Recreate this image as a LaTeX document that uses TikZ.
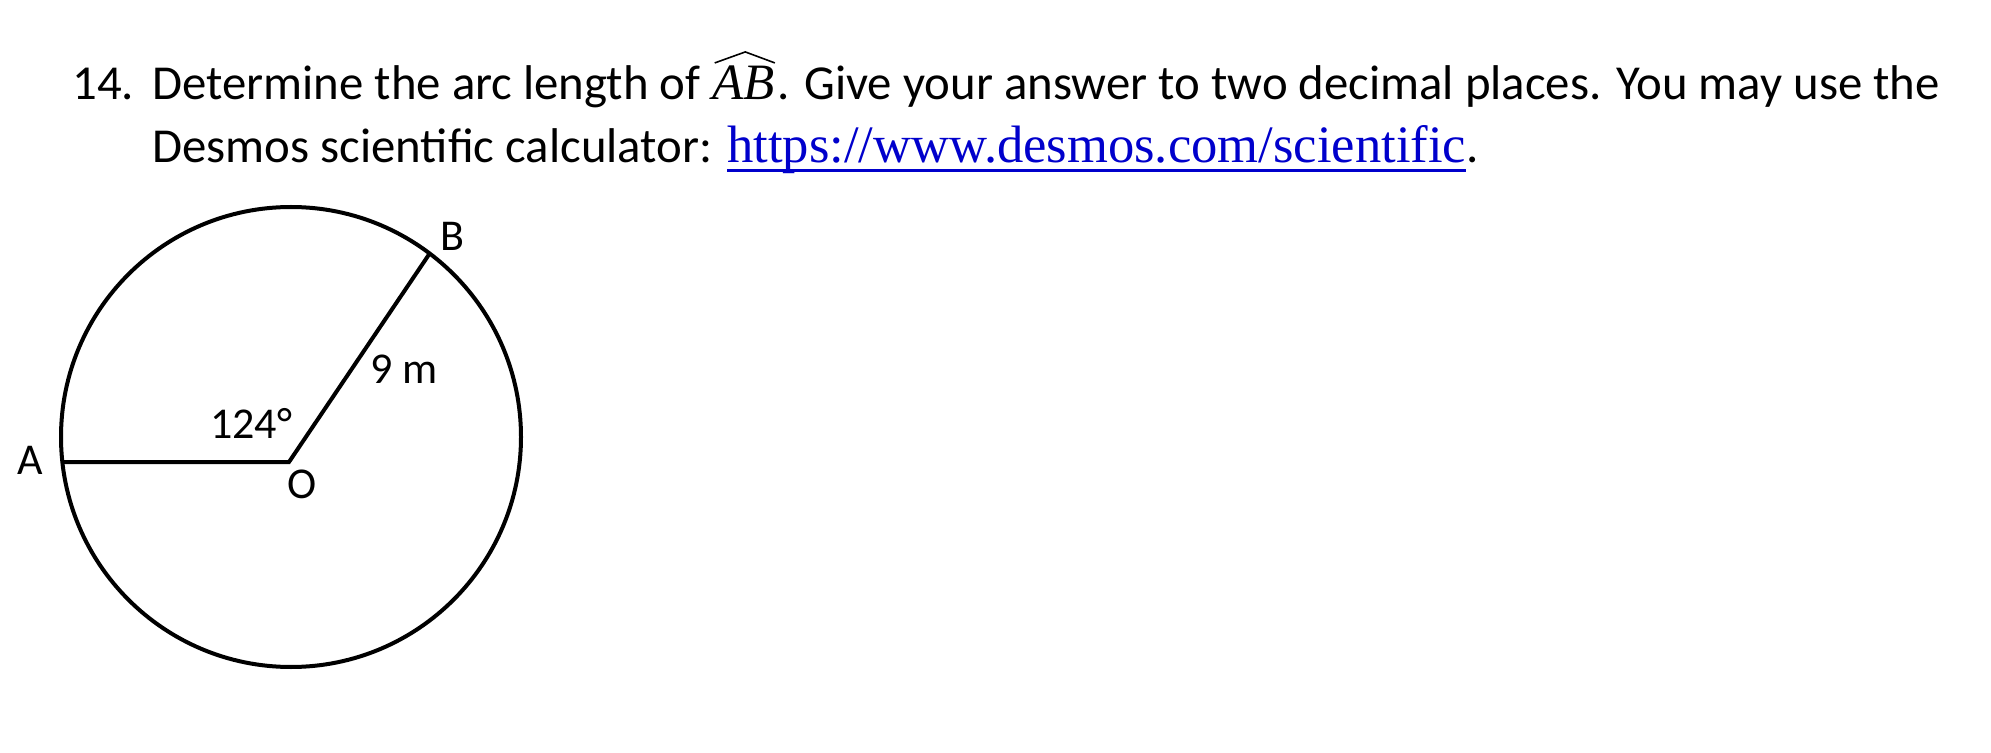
\documentclass[tikz,border=0pt]{standalone}
\usepackage{fontspec}
\setmainfont{Carlito}
\newfontfamily\timesfont{Liberation Serif}
\definecolor{linkblue}{RGB}{0,0,204}
\newcommand\linkul[1]{\setbox0\hbox{#1}\rlap{\rule[-4.4pt]{\wd0}{1.3pt}}\box0}
\tikzset{
  qtext/.style={font=\fontsize{24.4}{29}\selectfont, anchor=base west, inner sep=0pt},
  lbl/.style={font=\fontsize{22}{26}\selectfont, inner sep=0pt},
  geom/.style={line width=2pt, line join=miter},
  hat/.style={line width=0.8pt, line join=miter}
}
\begin{document}
\begin{tikzpicture}[x=0.5pt,y=-0.5pt]
\useasboundingbox[fill=white] (0,0) rectangle (1991,753);
\node[qtext] (num) at (72,100) {14.};
\node[qtext] (l1a) at (152,100) {Determine the arc length of};
\node[qtext, font=\fontsize{25.5}{29}\selectfont\timesfont\itshape] (ab) at ([xshift=5.5pt]l1a.base east) {AB};
\node[qtext] (l1b) at ([xshift=1pt]ab.base east) {. Give your answer to two decimal places. You may use the};
\draw[hat] ([xshift=1.5pt,yshift=1.5pt]ab.north west) -- ([xshift=1pt,yshift=7pt]ab.north) -- ([xshift=0pt,yshift=1.5pt]ab.north east);
\node[qtext] (l2) at (152,163) {Desmos scientific calculator: {\timesfont\fontsize{26.3}{30}\selectfont\color{linkblue}\linkul{https://www.desmos.com/scientific}}.};
\coordinate (C) at (291,437);
\coordinate (O) at (289,462);
\coordinate (A) at (62,462);
\coordinate (B) at (430,253);
\draw[geom] (C) circle[radius=115pt];
\draw[geom] (A) -- (O) -- (B);
\node[lbl] (la) at (30,460) {A};
\node[lbl] (lb) at (452,236) {B};
\node[lbl] (lo) at (302,484) {O};
\node[lbl] (ang) at (251,423) {124°};
\node[lbl] (len) at (404,369) {9 m};
\end{tikzpicture}
\end{document}
